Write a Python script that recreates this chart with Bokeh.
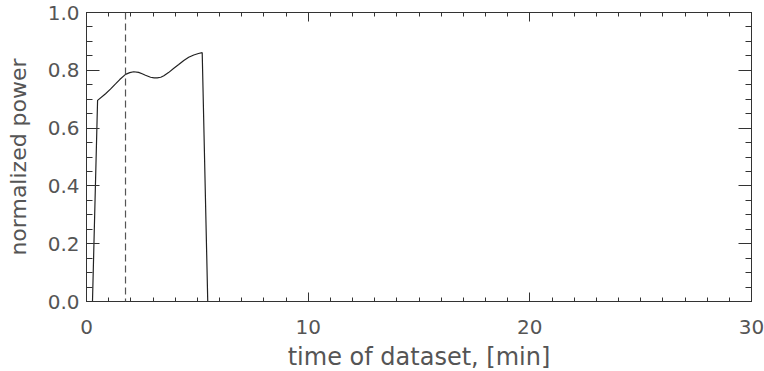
from bokeh.plotting import figure
from bokeh.models import (SingleIntervalTicker, LinearAxis, Range1d, Span,
                          CustomJSTickFormatter)
from bokeh.embed import file_html
from bokeh.resources import INLINE

# data
time_min = [0.27, 0.50, 0.86, 1.08, 1.31, 1.50, 1.76, 1.95, 2.13, 2.35, 2.51, 2.66,
            2.89, 3.05, 3.19, 3.35, 3.49, 3.70, 3.94, 4.16, 4.39, 4.61, 4.84, 5.05, 5.22, 5.47]
power = [0.0, 0.696, 0.719, 0.735, 0.753, 0.768, 0.786, 0.792, 0.795, 0.793, 0.788, 0.783,
         0.776, 0.774, 0.774, 0.776, 0.781, 0.792, 0.807, 0.820, 0.834, 0.845, 0.853, 0.858, 0.861, 0.0]
marker_time = 1.76
x_range = (0, 30)
y_range = (0, 1.0)
ytick_values = [0.0, 0.2, 0.4, 0.6, 0.8, 1.0]
ytick_labels = ["0.0", "0.2", "0.4", "0.6", "0.8", "1.0"]

FONT = "DejaVu Sans"
TXT = "#555555"
AX = "#333333"

p = figure(output_backend="svg", toolbar_location=None,
           frame_width=665, frame_height=289,
           min_border_left=86, min_border_right=13, min_border_top=12, min_border_bottom=68,
           x_range=Range1d(*x_range), y_range=Range1d(*y_range),
           background_fill_color="white", border_fill_color="white")
p.grid.visible = False
p.outline_line_color = AX
p.outline_line_width = 1

blank = CustomJSTickFormatter(code="return ''")

def style_axis(ax, major_in, minor_in):
    ax.axis_line_color = AX
    ax.major_tick_line_color = AX
    ax.minor_tick_line_color = AX
    ax.major_tick_in = major_in
    ax.major_tick_out = 0
    ax.minor_tick_in = minor_in
    ax.minor_tick_out = 0
    ax.major_label_text_font = FONT
    ax.major_label_text_font_size = "20px"
    ax.major_label_text_color = TXT
    ax.axis_label_text_font = FONT
    ax.axis_label_text_color = TXT
    ax.axis_label_text_font_style = "normal"

p.xaxis.ticker = SingleIntervalTicker(interval=10, num_minor_ticks=10)
p.yaxis.ticker = SingleIntervalTicker(interval=0.2, num_minor_ticks=4)
xa = p.xaxis[0]
ya = p.yaxis[0]
style_axis(xa, 9, 4)
style_axis(ya, 13, 6)
xa.axis_label = "time of dataset, [min]"
xa.axis_label_text_font_size = "24px"
xa.major_label_standoff = 18
xa.axis_label_standoff = 6
ya.axis_label = "normalized power"
ya.axis_label_text_font_size = "22px"
ya.major_label_overrides = {v: t for v, t in zip(ytick_values, ytick_labels)}
ya.major_label_standoff = 7
ya.axis_label_standoff = 14

top = LinearAxis(ticker=SingleIntervalTicker(interval=10, num_minor_ticks=10), formatter=blank)
right = LinearAxis(ticker=SingleIntervalTicker(interval=0.2, num_minor_ticks=4), formatter=blank)
style_axis(top, 9, 4)
style_axis(right, 13, 6)
top.major_label_standoff = 0
right.major_label_standoff = 0
p.add_layout(top, "above")
p.add_layout(right, "right")

p.line(time_min, power, line_color="#222222", line_width=1.2)
p.add_layout(Span(location=marker_time, dimension="height",
                  line_color="#555555", line_width=1.2, line_dash="7 4"))

open("out.html", "w").write(file_html(p, INLINE))
